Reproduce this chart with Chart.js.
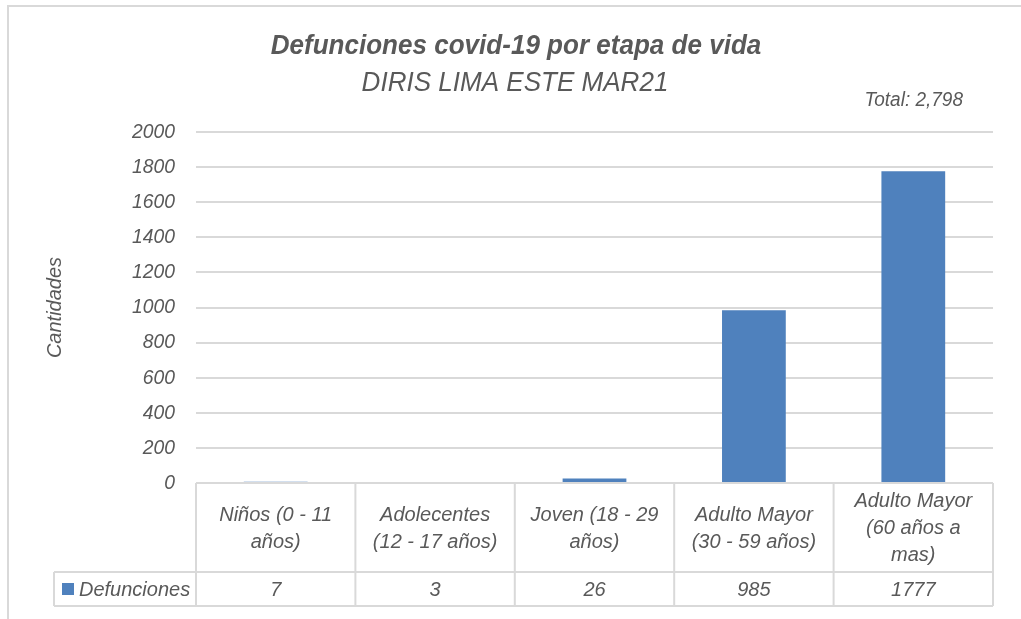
<!DOCTYPE html>
<html>
<head>
<meta charset="utf-8">
<script src="https://cdn.jsdelivr.net/npm/chart.js@4"></script>
<style>
html,body{margin:0;padding:0;background:#fff;}
#wrap{width:1021px;height:619px;position:relative;}
</style>
</head>
<body>
<div id="wrap"><canvas id="c" width="1021" height="619"></canvas></div>
<script>
const categories = [
  ["Niños (0 - 11", "años)"],
  ["Adolecentes", "(12 - 17 años)"],
  ["Joven (18 - 29", "años)"],
  ["Adulto Mayor", "(30 - 59 años)"],
  ["Adulto Mayor", "(60 años a", "mas)"]
];
const seriesName = "Defunciones";
const defunciones = [7, 3, 26, 985, 1777];
const yTicks = [0, 200, 400, 600, 800, 1000, 1200, 1400, 1600, 1800, 2000];
const titleText = "Defunciones covid-19 por etapa de vida";
const subtitleText = "DIRIS LIMA ESTE MAR21";
const totalText = "Total: 2,798";
const yAxisTitle = "Cantidades";

const FONT = "'Liberation Sans Narrow', 'Arial Narrow', 'Liberation Sans', Arial, sans-serif";
const GRAY = '#595959';
const LINE = '#d9d9d9';
const BAR = '#4f81bd';

// draw text with a horizontal squeeze to imitate a narrow typeface
function narrowText(ctx, text, x, y, font, align, sx) {
  ctx.save();
  ctx.translate(x, y);
  ctx.scale(sx, 1);
  ctx.font = font;
  ctx.textAlign = align;
  ctx.textBaseline = 'middle';
  ctx.fillText(text, 0, 0);
  ctx.restore();
}

const extras = {
  id: 'extras',
  beforeDraw(chart) {
    const ctx = chart.ctx;
    ctx.save();
    ctx.fillStyle = '#fff';
    ctx.fillRect(0, 0, chart.width, chart.height);
    ctx.strokeStyle = LINE;
    ctx.lineWidth = 2;
    ctx.beginPath();
    ctx.moveTo(8, 619); ctx.lineTo(8, 6); ctx.lineTo(1021, 6);
    ctx.stroke();
    ctx.restore();
  },
  afterDraw(chart) {
    const ctx = chart.ctx;
    const x = chart.scales.x;
    const y = chart.scales.y;
    const area = chart.chartArea;
    const n = categories.length;
    const colW = (area.right - area.left) / n;
    const top = area.bottom;
    const mid = top + 89;
    const bot = top + 123;
    const legLeft = 54;
    ctx.save();
    // data table grid
    ctx.strokeStyle = LINE;
    ctx.lineWidth = 2;
    ctx.beginPath();
    ctx.moveTo(area.left, top); ctx.lineTo(area.right, top);
    ctx.moveTo(legLeft, mid); ctx.lineTo(area.right, mid);
    ctx.moveTo(legLeft, bot); ctx.lineTo(area.right, bot);
    ctx.moveTo(legLeft, mid); ctx.lineTo(legLeft, bot);
    for (let i = 0; i <= n; i++) {
      const xx = area.left + i * colW;
      ctx.moveTo(xx, top); ctx.lineTo(xx, bot);
    }
    ctx.stroke();
    ctx.fillStyle = GRAY;
    const tblFont = 'italic 20px ' + FONT;
    const lh = 27;
    categories.forEach((lines, i) => {
      const cx = x.getPixelForValue(i);
      const cy = (top + mid) / 2 + 1;
      const y0 = cy - (lines.length - 1) * lh / 2;
      lines.forEach((t, j) => narrowText(ctx, t, cx, y0 + j * lh, tblFont, 'center', 1));
      narrowText(ctx, String(defunciones[i]), cx, (mid + bot) / 2 + 1, tblFont, 'center', 1);
    });
    // legend key
    const ry = (mid + bot) / 2;
    ctx.fillStyle = BAR;
    ctx.fillRect(62, ry - 6, 12, 12);
    ctx.fillStyle = GRAY;
    narrowText(ctx, seriesName, 79, ry + 1, tblFont, 'left', 1);
    // y tick labels
    const tickFont = 'italic 21px ' + FONT;
    yTicks.forEach(v => narrowText(ctx, String(v), 175, y.getPixelForValue(v), tickFont, 'right', 0.92));
    // y axis title
    ctx.save();
    ctx.translate(55, (area.top + area.bottom) / 2);
    ctx.rotate(-Math.PI / 2);
    narrowText(ctx, yAxisTitle, 0, 0, 'italic 20px ' + FONT, 'center', 1);
    ctx.restore();
    // titles
    narrowText(ctx, titleText, 516, 46, 'italic bold 28px ' + FONT, 'center', 0.93);
    narrowText(ctx, subtitleText, 515, 83, 'italic 28px ' + FONT, 'center', 0.93);
    narrowText(ctx, totalText, 963, 100, 'italic 20px ' + FONT, 'right', 0.95);
    ctx.restore();
  }
};

new Chart(document.getElementById('c'), {
  type: 'bar',
  data: {
    labels: categories,
    datasets: [{
      label: seriesName,
      data: defunciones,
      backgroundColor: BAR,
      borderWidth: 0,
      barPercentage: 1,
      categoryPercentage: 0.4
    }]
  },
  options: {
    responsive: false,
    animation: false,
    devicePixelRatio: 1,
    layout: { padding: { left: 12, right: 28, top: 132, bottom: 0 } },
    plugins: {
      legend: { display: false },
      tooltip: { enabled: false },
      title: { display: false },
      subtitle: { display: false }
    },
    scales: {
      x: {
        grid: { display: false },
        border: { display: false },
        ticks: { display: false },
        afterFit(s) { s.height = 136; }
      },
      y: {
        min: 0,
        max: 2000,
        afterBuildTicks(s) { s.ticks = yTicks.map(v => ({ value: v })); },
        grid: { color: LINE, lineWidth: 2, drawTicks: false },
        border: { display: false },
        ticks: { display: false },
        afterFit(s) { s.width = 184; }
      }
    }
  },
  plugins: [extras]
});
</script>
</body>
</html>
